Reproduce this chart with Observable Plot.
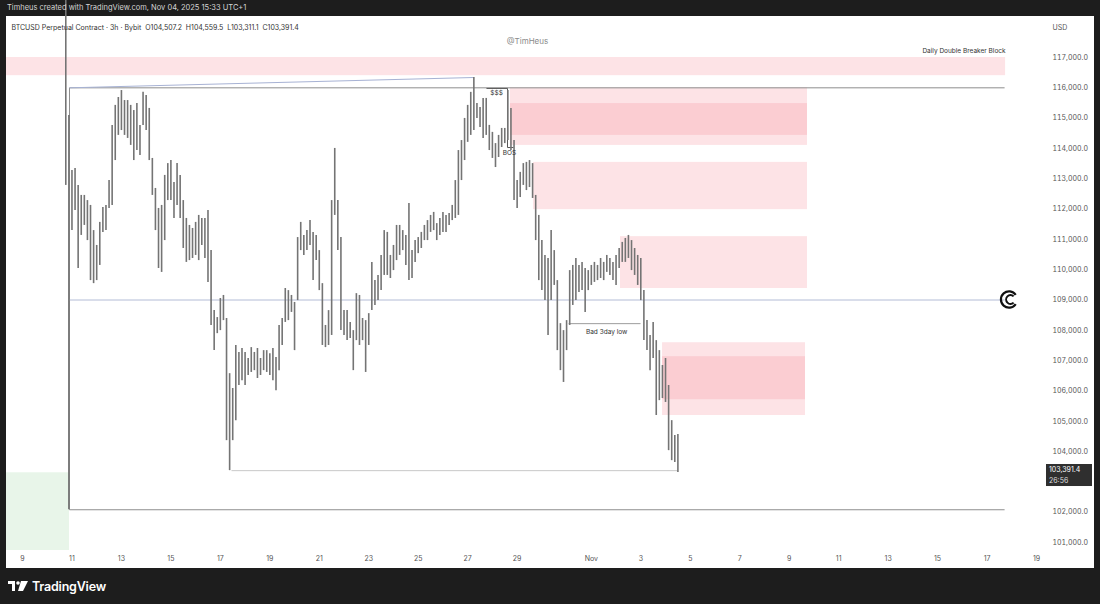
<!DOCTYPE html>
<html><head><meta charset="utf-8">
<script src="https://cdn.jsdelivr.net/npm/d3@7"></script>
<script src="https://cdn.jsdelivr.net/npm/@observablehq/plot@0.6"></script>
<style>
html,body{margin:0;padding:0;background:#1d1d1d;width:1100px;height:604px;overflow:hidden;font-family:Inter,"Noto Sans",sans-serif;}
#chart{position:absolute;left:6px;top:16px;width:1088px;height:552px;background:#fff;}
#chart svg{overflow:visible;display:block;}
#top{position:absolute;left:7px;top:0;height:16px;line-height:16px;color:#d4d4d4;font-size:7.5px;white-space:nowrap;}
#bottom{position:absolute;left:8px;top:578px;height:16px;display:flex;align-items:center;gap:4px;color:#fff;font-size:12.5px;font-weight:600;letter-spacing:-0.2px;}
</style></head>
<body>
<div id="chart"></div>
<div id="top">Timheus created with TradingView.com, Nov 04, 2025 15:33 UTC+1</div>
<div id="bottom"><svg width="20" height="12" viewBox="0 0 20 12"><path d="M0 1h7v10H4V4H0z" fill="#fff"/><circle cx="10" cy="3" r="1.8" fill="#fff"/><path d="M13 1h7l-5 10h-5z" fill="#fff"/></svg><span>TradingView</span></div>
<script>
// ---------- data ----------
const firstCandle = Date.UTC(2025, 9, 10, 18); // Oct 10 18:00 UTC, 3h candles
const candleHours = 3;
const highs = [121000,115090,113270,113340,112780,112450,112450,112280,112120,111290,
110800,111560,112050,112120,112940,114760,115420,115680,115910,115580,
115580,115420,115250,115480,114760,115850,115750,115320,113670,112680,
112020,112120,113110,113500,113600,112880,113500,113110,112280,111690,
111460,111360,111560,111790,111690,111690,111950,110630,108650,108420,
109050,109150,108390,106570,106080,107500,107270,107400,107270,107070,
107430,107270,107400,107070,107330,107330,107230,107400,107100,108160,
108390,109380,109310,109150,108920,111060,111560,111130,111290,111620,
111230,111130,110630,109540,108160,108650,112280,114000,112280,111060,
108650,108650,108260,107990,109210,109150,108390,108320,108550,110240,
109640,109810,110470,111290,111230,110470,110800,111460,111460,111290,
111130,112180,110630,110960,111060,111230,111460,111620,111790,111890,
111520,111690,111890,111790,111850,112120,112940,113930,114260,114990,
115420,115850,116340,115480,115350,115650,115650,114760,114530,114160,
114430,114660,114660,115910,115320,114260,112940,113210,113500,113540,
113600,113500,112450,111790,110960,110470,110370,111290,110630,109640,
108220,107990,108320,109970,110140,110370,110140,110240,110040,109970,
110140,110240,110140,110370,110240,110470,110370,110240,110470,110700,
110900,111030,111130,110960,110700,110470,110370,109310,108320,107830,
108260,107660,107330,106840,107070,106180,105020,104530,104559.5];
const lows = [112780,102080,111290,111950,110040,111130,111460,110960,109640,109540,
109640,110140,111230,111290,112020,112120,113600,114430,114590,114430,
114330,114100,113600,113930,113770,114760,114590,113600,112450,111290,
110040,109910,110960,112280,112280,111690,112120,111690,110700,110240,
110300,110370,110470,110300,110800,110370,109580,108160,107330,107890,
107990,108320,104360,103370,104360,105020,106180,106340,106180,106510,
106610,106670,106410,106510,106670,106610,106510,106340,106010,106670,
107500,108260,108320,108590,107330,108980,110630,110470,110630,110800,
109640,110300,109310,107500,107430,107500,107830,111790,110630,107990,
107830,107660,107730,106670,107660,107500,107660,106610,107500,108650,
108820,108980,109310,109810,109810,109710,109970,110300,110470,110630,
110140,109640,109710,110240,110530,110700,110960,110960,111230,111290,
110960,111130,111230,111230,111460,111620,111690,111790,112940,113600,
114200,114430,114590,114990,114690,114330,114430,113930,113670,113370,
113700,114030,114160,114260,113930,112280,112020,112380,112780,112610,
112710,112350,110960,109640,109310,108980,107830,108980,109480,107330,
106670,106280,107330,108160,108820,108980,109250,109310,108590,109310,
109480,109580,109640,109710,109640,109910,109810,109640,109480,110040,
110240,110240,110370,109970,109810,109480,108980,107660,107330,106670,
107070,105190,105680,105750,105620,104030,103700,103640,103311.1];
const lastClose = 103391.4;
const countdown = "26:56";

// day helper: month (1-12), fractional day of month
const day = (m, d) => new Date(Date.UTC(2025, m - 1, 1) + (d - 1) * 864e5);

const zoneFrom  = [day(10,8.3), day(10,28.73), day(10,28.73), day(10,29.66), day(11,2.18), day(11,3.88), day(11,3.88)];
const zoneTo    = [day(11,17.75), day(11,9.74), day(11,9.74), day(11,9.74), day(11,9.74), day(11,9.66), day(11,9.66)];
const zoneLow   = [116400, 114100, 114430, 111980, 109380, 105190, 105710];
const zoneHigh  = [117000, 116000, 115480, 113540, 111090, 107590, 107130];
const zoneShade = ["light","light","dark","light","light","light","dark"];

const greenFrom = [day(10,8.3)], greenTo = [day(10,10.9)], greenLow = [100500], greenHigh = [103300];

const lineFrom = [day(10,10.9), day(10,10.9), day(10,10.9), day(10,10.9), day(10,10.9), day(10,17.45), day(10,31.08), day(10,27.76), day(10,28.61), day(10,28.61)];
const lineTo   = [day(11,17.71), day(11,17.71), day(10,10.9), day(11,17.71), day(10,27.24), day(11,4.49), day(11,2.99), day(10,28.61), day(10,28.61), day(10,28.85)];
const lineP1   = [116000, 102080, 102080, 109000, 116000, 103370, 108220, 115980, 115980, 114030];
const lineP2   = [116000, 102080, 116000, 109000, 116340, 103370, 108220, 115980, 114030, 114030];
const lineKind = ["box","box","box","mid","slope","low","bad","liq","liq","liq"];

const noteText  = ["Daily Double Breaker Block", "$$$", "BOS", "Bad 3day low"];
const noteDate  = [day(11,17.75), day(10,28.17), day(10,28.69), day(11,1.62)];
const notePrice = [117230, 115830, 113860, 107960];
const noteAnchor= ["end","middle","middle","middle"];

const xTicks = [day(10,9),day(10,11),day(10,13),day(10,15),day(10,17),day(10,19),day(10,21),day(10,23),day(10,25),day(10,27),day(10,29),
  day(11,1),day(11,3),day(11,5),day(11,7),day(11,9),day(11,11),day(11,13),day(11,15),day(11,17),day(11,19)];
const xTickLabels = ["9","11","13","15","17","19","21","23","25","27","29","Nov","3","5","7","9","11","13","15","17","19"];
// 103,000 is hidden behind the live price label in the reference
const yTicks = [117000,116000,115000,114000,113000,112000,111000,110000,109000,108000,107000,106000,105000,104000,102000,101000];

const header = "BTCUSD Perpetual Contract · 3h · Bybit  O104,507.2  H104,559.5  L103,311.1  C103,391.4";
const watermark = "@TimHeus";
const logoDate = day(11,17.91), logoPrice = 109000;

// ---------- build tables ----------
const candles = highs.map((h, i) => ({t: new Date(firstCandle + i * candleHours * 3600e3), high: h, low: lows[i]}));
const zones = zoneFrom.map((f, i) => ({x1: f, x2: zoneTo[i], y1: zoneLow[i], y2: zoneHigh[i], shade: zoneShade[i]}));
const greens = greenFrom.map((f, i) => ({x1: f, x2: greenTo[i], y1: greenLow[i], y2: greenHigh[i]}));
const segs = lineFrom.map((f, i) => ({x1: f, x2: lineTo[i], y1: lineP1[i], y2: lineP2[i], kind: lineKind[i]}));
const notes = noteText.map((t, i) => ({text: t, x: noteDate[i], y: notePrice[i], anchor: noteAnchor[i]}));

const shadeColor = {light: "#fde3e6", dark: "#fbcdd2"};
const lineColor = {box: "#8e8e8e", mid: "#b3bcd6", slope: "#a7b2d4", low: "#c8c8c8", bad: "#9c9c9c", liq: "#555"};

const W = 1088, H = 552;
const plot = Plot.plot({
  width: W, height: H,
  marginLeft: 0, marginRight: 50, marginTop: 0, marginBottom: 18,
  style: {background: "transparent", fontFamily: "Inter, 'Noto Sans', sans-serif"},
  x: {type: "utc", domain: [day(10,9), day(11,19)], range: [16, 1030], axis: null},
  y: {domain: [101000, 117000], range: [526, 41], axis: null},
  marks: [
    Plot.rect(zones.filter(d => d.shade === "light"), {x1: "x1", x2: "x2", y1: "y1", y2: "y2", fill: d => shadeColor[d.shade], clip: "frame"}),
    Plot.rect(zones.filter(d => d.shade === "dark"), {x1: "x1", x2: "x2", y1: "y1", y2: "y2", fill: d => shadeColor[d.shade], clip: "frame"}),
    Plot.rect(greens, {x1: "x1", x2: "x2", y1: "y1", y2: "y2", fill: "#e8f5e9", clip: "frame"}),
    Plot.link(segs, {x1: "x1", x2: "x2", y1: "y1", y2: "y2", stroke: d => lineColor[d.kind], strokeWidth: 1, clip: "frame"}),
    Plot.ruleX(candles, {x: "t", y1: "low", y2: "high", stroke: "#747474", strokeWidth: 1.6, clip: false}),
    Plot.text(notes.filter(d => d.anchor === "end"), {x: "x", y: "y", text: "text", textAnchor: "end", fontSize: 6.5, fill: "#333"}),
    Plot.text(notes.filter(d => d.anchor === "middle"), {x: "x", y: "y", text: "text", textAnchor: "middle", fontSize: 6.5, fill: "#333"}),
    Plot.text(xTicks, {x: d => d, text: (d, i) => xTickLabels[i], frameAnchor: "bottom", dy: 10, fontSize: 7, fill: "#555"}),
    Plot.axisY(yTicks, {anchor: "right", tickSize: 0, tickPadding: 8, tickFormat: d3.format(",.1f"), fontSize: 7, fill: "#555", label: null}),
    Plot.text([header], {frameAnchor: "top-left", dx: 5, dy: 9, textAnchor: "start", fontSize: 7, fill: "#333"}),
    Plot.text([watermark], {frameAnchor: "top", dx: 2, dy: 22, fontSize: 8, fill: "#8a8a8a"}),
    Plot.text(["USD"], {frameAnchor: "top-right", dx: 8, dy: 9, textAnchor: "start", fontSize: 7, fill: "#555"})
  ]
});
document.getElementById("chart").appendChild(plot);

const svg = d3.select(plot);
const xs = plot.scale("x"), ys = plot.scale("y");

// coin logo (two nested rings open to the right) placed through the scales
const lx = xs.apply(logoDate), ly = ys.apply(logoPrice);
const arc = d3.arc();
const q = Math.PI / 2;
const logo = svg.append("g").attr("transform", `translate(${lx},${ly})`).attr("fill", "#111");
logo.append("path").attr("d", arc({innerRadius: 7, outerRadius: 9.2, startAngle: q + 0.6, endAngle: q + 2 * Math.PI - 0.6}));
logo.append("path").attr("d", arc({innerRadius: 3.4, outerRadius: 5.4, startAngle: q + 0.8, endAngle: q + 2 * Math.PI - 0.8})).attr("transform", "translate(1.5,0)");

// current price label on the price scale
const yc = ys.apply(lastClose);
const g = svg.append("g").attr("text-anchor", "start");
g.append("rect").attr("x", 1040).attr("y", yc - 5.5).attr("width", 46).attr("height", 22).attr("fill", "#2f2f2f");
g.append("text").attr("x", 1043).attr("y", yc + 2.5).attr("fill", "#fff").attr("font-size", 7).text(d3.format(",.1f")(lastClose));
g.append("text").attr("x", 1043).attr("y", yc + 13).attr("fill", "#ddd").attr("font-size", 7).text(countdown);
</script>
</body></html>
